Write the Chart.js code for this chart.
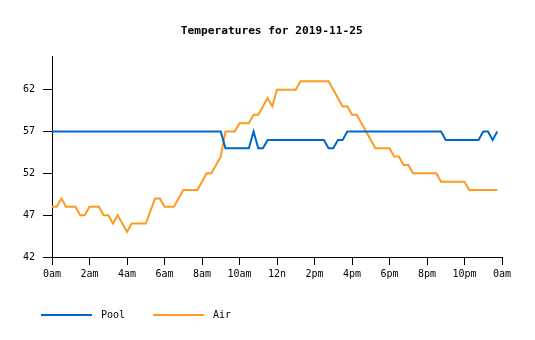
<!DOCTYPE html>
<html><head><meta charset="utf-8">
<script src="https://cdn.jsdelivr.net/npm/chart.js@4/dist/chart.umd.min.js"></script>
<style>html,body{margin:0;padding:0;background:#fff;} #wrap{width:535px;height:340px;}</style>
</head><body><div id="wrap"><canvas id="c" width="535" height="340"></canvas></div>
<script>
const chartTitle = 'Temperatures for 2019-11-25';
// sample times in hours, one every 15 minutes
const sampleHours = Array.from({length: 96}, (_, i) => i / 4);
const pool = [
  57,57,57,57,57,57,57,57,57,57,57,57,57,57,57,57,
  57,57,57,57,57,57,57,57,57,57,57,57,57,57,57,57,
  57,57,57,57,57,55,55,55,55,55,55,57,55,55,56,56,
  56,56,56,56,56,56,56,56,56,56,56,55,55,56,56,57,
  57,57,57,57,57,57,57,57,57,57,57,57,57,57,57,57,
  57,57,57,57,56,56,56,56,56,56,56,56,57,57,56,57
];
const air = [
  48,48,49,48,48,48,47,47,48,48,48,47,47,46,47,46,
  45,46,46,46,46,47.5,49,49,48,48,48,49,50,50,50,50,
  51,52,52,53,54,57,57,57,58,58,58,59,59,60,61,60,
  62,62,62,62,62,63,63,63,63,63,63,63,62,61,60,60,
  59,59,58,57,56,55,55,55,55,54,54,53,53,52,52,52,
  52,52,52,51,51,51,51,51,51,50,50,50,50,50,50,50
];
const xTickValues = [0,2,4,6,8,10,12,14,16,18,20,22,24];
const xTickLabels = ['0am','2am','4am','6am','8am','10am','12n','2pm','4pm','6pm','8pm','10pm','0am'];
const yTickValues = [42,47,52,57,62];
const poolColor = '#0066cc';
const airColor = '#ff9922';

Chart.defaults.font.family = "'DejaVu Sans Mono', monospace";
Chart.defaults.color = '#000';

// legend swatch: a 50px line inside a 55px-wide symbol
function legendLine(color) {
  const c = document.createElement('canvas');
  c.width = 55; c.height = 4;
  const g = c.getContext('2d');
  g.fillStyle = color;
  g.fillRect(0, 1, 51, 2);
  return c;
}

const titleShift = {
  id: 'titleShift',
  afterLayout(chart) {
    const t = chart.titleBlock;
    if (t) { t.left += 14.2; t.right += 14.2; }
  }
};

new Chart(document.getElementById('c'), {
  type: 'line',
  data: {
    datasets: [
      { label: 'Pool', data: sampleHours.map((h, i) => ({x: h, y: pool[i]})),
        borderColor: poolColor, backgroundColor: poolColor, borderWidth: 2,
        pointRadius: 0, pointStyle: legendLine(poolColor), tension: 0, fill: false },
      { label: 'Air', data: sampleHours.map((h, i) => ({x: h, y: air[i]})),
        borderColor: airColor, backgroundColor: airColor, borderWidth: 2,
        pointRadius: 0, pointStyle: legendLine(airColor), tension: 0, fill: false }
    ]
  },
  options: {
    responsive: false, animation: false, devicePixelRatio: 1,
    layout: { padding: { left: 13, right: 33, top: 0, bottom: 10 } },
    plugins: {
      title: { display: true, text: chartTitle, color: '#000',
        font: { size: 11.2, weight: 'bold' }, padding: { top: 24.4, bottom: 18.4 } },
      legend: { position: 'bottom', align: 'start',
        labels: { usePointStyle: true, pointStyleWidth: 55, boxWidth: 55,
          padding: 28, color: '#000', font: { size: 10 } } },
      tooltip: { enabled: false }
    },
    scales: {
      x: {
        type: 'linear', min: 0, max: 24,
        afterBuildTicks: s => { s.ticks = xTickValues.map(v => ({value: v})); },
        ticks: { callback: (v, i) => xTickLabels[i], font: { size: 10 }, color: '#000',
          padding: 3, maxRotation: 0, autoSkip: false },
        grid: { drawOnChartArea: false, drawTicks: true, tickLength: 8, color: '#000' },
        border: { color: '#000', width: 1 },
        afterFit: s => { s.height = 25; }
      },
      y: {
        type: 'linear', min: 42, max: 66,
        afterBuildTicks: s => { s.ticks = yTickValues.map(v => ({value: v})); },
        ticks: { callback: v => String(v), font: { size: 10 }, color: '#000', padding: 8 },
        grid: { drawOnChartArea: false, drawTicks: true, tickLength: 9, color: '#000' },
        border: { color: '#000', width: 1 },
        afterFit: s => { s.width = 39; }
      }
    }
  },
  plugins: [titleShift]
});
</script></body></html>
